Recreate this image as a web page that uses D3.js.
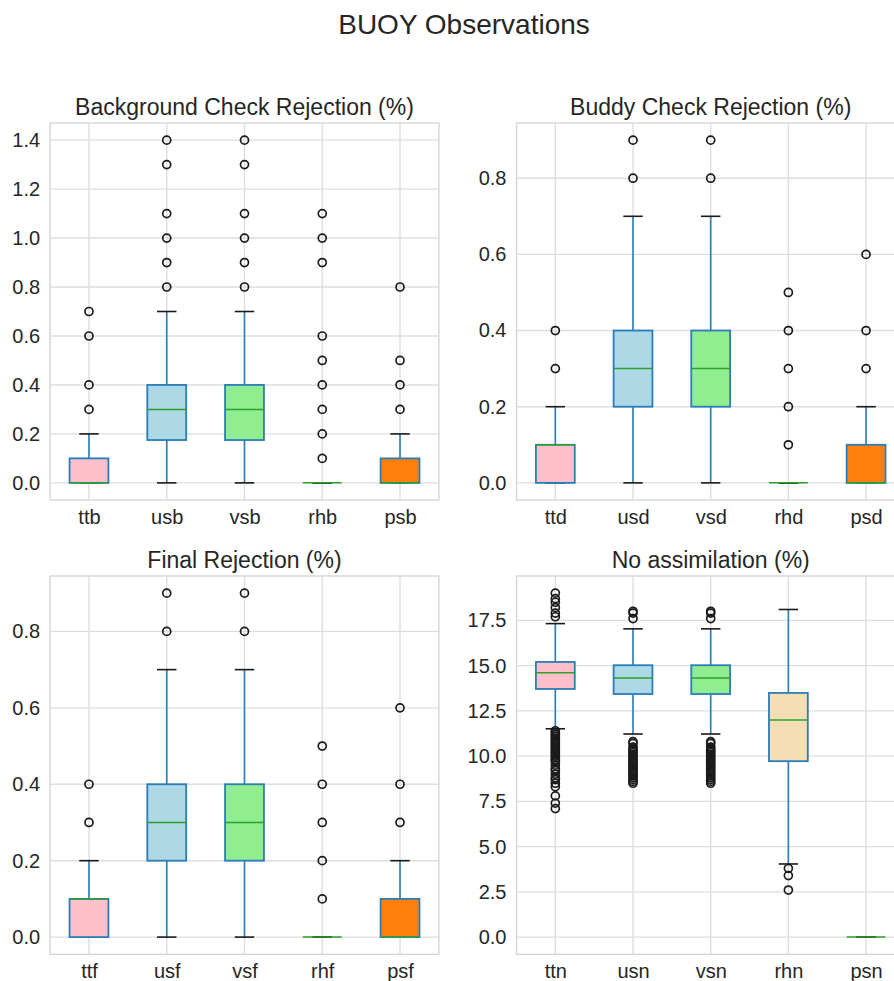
<!DOCTYPE html>
<html>
<head>
<meta charset="utf-8">
<script src="https://cdn.jsdelivr.net/npm/d3@7"></script>
<style>
  html, body { margin: 0; padding: 0; background: #ffffff; }
  svg { display: block; }
  text { font-family: "Liberation Sans", Arial, Helvetica, sans-serif; fill: #262626; }
</style>
</head>
<body>
<svg id="fig" width="894" height="981"></svg>
<script>
// ---- Background check rejection (%) ----
const bgCategories   = ["ttb", "usb", "vsb", "rhb", "psb"];
const bgQ1           = [0, 0.175, 0.175, 0, 0];
const bgMedian       = [0, 0.3, 0.3, 0, 0];
const bgQ3           = [0.1, 0.4, 0.4, 0, 0.1];
const bgWhiskerLow   = [0, 0, 0, 0, 0];
const bgWhiskerHigh  = [0.2, 0.7, 0.7, 0, 0.2];
const bgOutliers     = [
  [0.3, 0.4, 0.6, 0.7],
  [0.8, 0.9, 1.0, 1.1, 1.3, 1.4],
  [0.8, 0.9, 1.0, 1.1, 1.3, 1.4],
  [0.1, 0.2, 0.3, 0.4, 0.5, 0.6, 0.9, 1.0, 1.1],
  [0.3, 0.4, 0.5, 0.8]
];
const bgTicks = [0, 0.2, 0.4, 0.6, 0.8, 1.0, 1.2, 1.4];

// ---- Buddy check rejection (%) ----
const bdCategories   = ["ttd", "usd", "vsd", "rhd", "psd"];
const bdQ1           = [0, 0.2, 0.2, 0, 0];
const bdMedian       = [0.1, 0.3, 0.3, 0, 0];
const bdQ3           = [0.1, 0.4, 0.4, 0, 0.1];
const bdWhiskerLow   = [0, 0, 0, 0, 0];
const bdWhiskerHigh  = [0.2, 0.7, 0.7, 0, 0.2];
const bdOutliers     = [
  [0.3, 0.4],
  [0.8, 0.9],
  [0.8, 0.9],
  [0.1, 0.2, 0.3, 0.4, 0.5],
  [0.3, 0.4, 0.6]
];
const bdTicks = [0, 0.2, 0.4, 0.6, 0.8];

// ---- Final rejection (%) ----
const frCategories   = ["ttf", "usf", "vsf", "rhf", "psf"];
const frQ1           = [0, 0.2, 0.2, 0, 0];
const frMedian       = [0.1, 0.3, 0.3, 0, 0];
const frQ3           = [0.1, 0.4, 0.4, 0, 0.1];
const frWhiskerLow   = [0, 0, 0, 0, 0];
const frWhiskerHigh  = [0.2, 0.7, 0.7, 0, 0.2];
const frOutliers     = [
  [0.3, 0.4],
  [0.8, 0.9],
  [0.8, 0.9],
  [0.1, 0.2, 0.3, 0.4, 0.5],
  [0.3, 0.4, 0.6]
];
const frTicks = [0, 0.2, 0.4, 0.6, 0.8];

// ---- No assimilation (%) ----
const naCategories   = ["ttn", "usn", "vsn", "rhn", "psn"];
const naQ1           = [13.71, 13.43, 13.43, 9.72, 0];
const naMedian       = [14.6, 14.32, 14.32, 12.0, 0];
const naQ3           = [15.2, 15.02, 15.02, 13.49, 0];
const naWhiskerLow   = [11.51, 11.22, 11.22, 4.04, 0];
const naWhiskerHigh  = [17.32, 17.03, 17.03, 18.1, 0];
const naOutliers     = [
  [19.0, 18.7, 18.5, 18.2, 17.9, 17.7,
   11.4, 11.3, 11.2, 11.1, 11.0, 10.9, 10.8, 10.7, 10.6, 10.5, 10.4, 10.3, 10.2, 10.1,
   10.0, 9.9, 9.8, 9.7, 9.5, 9.3, 9.2, 9.0, 8.8, 8.7, 8.5, 8.3, 7.8, 7.4, 7.1],
  [18.0, 17.9, 17.6,
   10.8, 10.7, 10.5, 10.4, 10.3, 10.2, 10.1, 10.0, 9.9, 9.8, 9.7, 9.6, 9.5, 9.4, 9.3,
   9.2, 9.1, 9.0, 8.9, 8.8, 8.7, 8.6, 8.5],
  [18.0, 17.9, 17.6,
   10.8, 10.7, 10.5, 10.4, 10.3, 10.2, 10.1, 10.0, 9.9, 9.8, 9.7, 9.6, 9.5, 9.4, 9.3,
   9.2, 9.1, 9.0, 8.9, 8.8, 8.7, 8.6, 8.5],
  [3.8, 3.4, 2.6],
  []
];
const naTicks = [0, 2.5, 5, 7.5, 10, 12.5, 15, 17.5];

const figureTitle = "BUOY Observations";
const panelTitles = [
  "Background Check Rejection (%)",
  "Buddy Check Rejection (%)",
  "Final Rejection (%)",
  "No assimilation (%)"
];

// Box fill per variable position: tt, us, vs, rh, ps
const boxFills = ["pink", "lightblue", "lightgreen", "wheat", "#ff7f0e"];

// Axes rectangles (pixels)
const layout = [
  { x0: 50.1,  x1: 438.9, y0: 123, y1: 500 },
  { x0: 516.5, x1: 904.9, y0: 123, y1: 500 },
  { x0: 50.1,  x1: 438.9, y0: 576, y1: 954.3 },
  { x0: 516.5, x1: 904.9, y0: 576, y1: 954.3 }
];

const panels = [
  { cats: bgCategories, q1: bgQ1, med: bgMedian, q3: bgQ3, lo: bgWhiskerLow, hi: bgWhiskerHigh, out: bgOutliers, ticks: bgTicks },
  { cats: bdCategories, q1: bdQ1, med: bdMedian, q3: bdQ3, lo: bdWhiskerLow, hi: bdWhiskerHigh, out: bdOutliers, ticks: bdTicks },
  { cats: frCategories, q1: frQ1, med: frMedian, q3: frQ3, lo: frWhiskerLow, hi: frWhiskerHigh, out: frOutliers, ticks: frTicks },
  { cats: naCategories, q1: naQ1, med: naMedian, q3: naQ3, lo: naWhiskerLow, hi: naWhiskerHigh, out: naOutliers, ticks: naTicks }
];

const fmt = d3.format(".1f");
const svg = d3.select("#fig");
svg.append("rect").attr("width", 894).attr("height", 981).attr("fill", "#ffffff");

svg.append("text")
  .attr("x", 464).attr("y", 33.5)
  .attr("text-anchor", "middle")
  .attr("font-size", 28)
  .text(figureTitle);

const gridColor = "#dedede";
const spineColor = "#d6d6d6";
const boxEdge = "#2a7dbb";
const medianColor = "#2ca02c";

panels.forEach((p, k) => {
  const L = layout[k];
  const g = svg.append("g");

  const x = d3.scalePoint().domain(p.cats).range([L.x0, L.x1]).padding(0.5);
  const step = x.step();
  const boxW = step * 0.5;
  const capW = boxW * 0.5;

  const all = [...p.lo, ...p.hi, ...p.q1, ...p.q3, ...p.out.flat()];
  const [mn, mx] = d3.extent(all);
  const pad = (mx - mn) * 0.05;
  const y = d3.scaleLinear().domain([mn - pad, mx + pad]).range([L.y1, L.y0]);

  // grid
  g.append("g").selectAll("line").data(p.ticks).join("line")
    .attr("x1", L.x0).attr("x2", L.x1)
    .attr("y1", d => y(d)).attr("y2", d => y(d))
    .attr("stroke", gridColor).attr("stroke-width", 1.4);
  g.append("g").selectAll("line").data(p.cats).join("line")
    .attr("x1", d => x(d)).attr("x2", d => x(d))
    .attr("y1", L.y0).attr("y2", L.y1)
    .attr("stroke", gridColor).attr("stroke-width", 1.4);

  // spines
  g.append("rect")
    .attr("x", L.x0).attr("y", L.y0)
    .attr("width", L.x1 - L.x0).attr("height", L.y1 - L.y0)
    .attr("fill", "none").attr("stroke", spineColor).attr("stroke-width", 1.4);

  // y axis labels
  const yAxis = d3.axisLeft(y).tickValues(p.ticks).tickFormat(fmt).tickSize(0).tickPadding(10);
  const ya = g.append("g").attr("transform", `translate(${L.x0},0)`).call(yAxis);
  ya.select(".domain").remove();
  ya.selectAll("text").attr("font-size", 20).attr("fill", "#262626")
    .style("font-family", '"Liberation Sans", Arial, sans-serif');

  // x axis labels
  const xAxis = d3.axisBottom(x).tickSize(0).tickPadding(10);
  const xa = g.append("g").attr("transform", `translate(0,${L.y1})`).call(xAxis);
  xa.select(".domain").remove();
  xa.selectAll("text").attr("font-size", 20).attr("fill", "#262626")
    .style("font-family", '"Liberation Sans", Arial, sans-serif');

  // panel title
  g.append("text")
    .attr("x", (L.x0 + L.x1) / 2).attr("y", L.y0 - 8)
    .attr("text-anchor", "middle")
    .attr("font-size", 23)
    .text(panelTitles[k]);

  const idx = d3.range(p.cats.length);
  const bx = g.append("g");

  // whiskers
  idx.forEach(i => {
    const cx = x(p.cats[i]);
    if (p.q1[i] > p.lo[i]) {
      bx.append("line").attr("x1", cx).attr("x2", cx)
        .attr("y1", y(p.q1[i])).attr("y2", y(p.lo[i]))
        .attr("stroke", boxEdge).attr("stroke-width", 1.6);
    }
    if (p.hi[i] > p.q3[i]) {
      bx.append("line").attr("x1", cx).attr("x2", cx)
        .attr("y1", y(p.q3[i])).attr("y2", y(p.hi[i]))
        .attr("stroke", boxEdge).attr("stroke-width", 1.6);
    }
  });

  // caps
  idx.forEach(i => {
    const cx = x(p.cats[i]);
    [p.lo[i], p.hi[i]].forEach(v => {
      bx.append("line").attr("x1", cx - capW / 2).attr("x2", cx + capW / 2)
        .attr("y1", y(v)).attr("y2", y(v))
        .attr("stroke", "#1a1a1a").attr("stroke-width", 1.6);
    });
  });

  // boxes
  bx.selectAll("rect").data(idx).join("rect")
    .attr("x", i => x(p.cats[i]) - boxW / 2)
    .attr("width", boxW)
    .attr("y", i => y(p.q3[i]))
    .attr("height", i => Math.max(0, y(p.q1[i]) - y(p.q3[i])))
    .attr("fill", i => boxFills[i])
    .attr("stroke", boxEdge).attr("stroke-width", 1.8);

  // medians
  bx.selectAll("line.med").data(idx).join("line")
    .attr("class", "med")
    .attr("x1", i => x(p.cats[i]) - boxW / 2)
    .attr("x2", i => x(p.cats[i]) + boxW / 2)
    .attr("y1", i => y(p.med[i])).attr("y2", i => y(p.med[i]))
    .attr("stroke", medianColor).attr("stroke-width", 1.5);

  // outliers
  const pts = idx.flatMap(i => p.out[i].map(v => ({ c: p.cats[i], v })));
  bx.selectAll("circle").data(pts).join("circle")
    .attr("cx", d => x(d.c)).attr("cy", d => y(d.v))
    .attr("r", 4.0)
    .attr("fill", "none")
    .attr("stroke", "#1a1a1a").attr("stroke-width", 1.7);
});
</script>
</body>
</html>
